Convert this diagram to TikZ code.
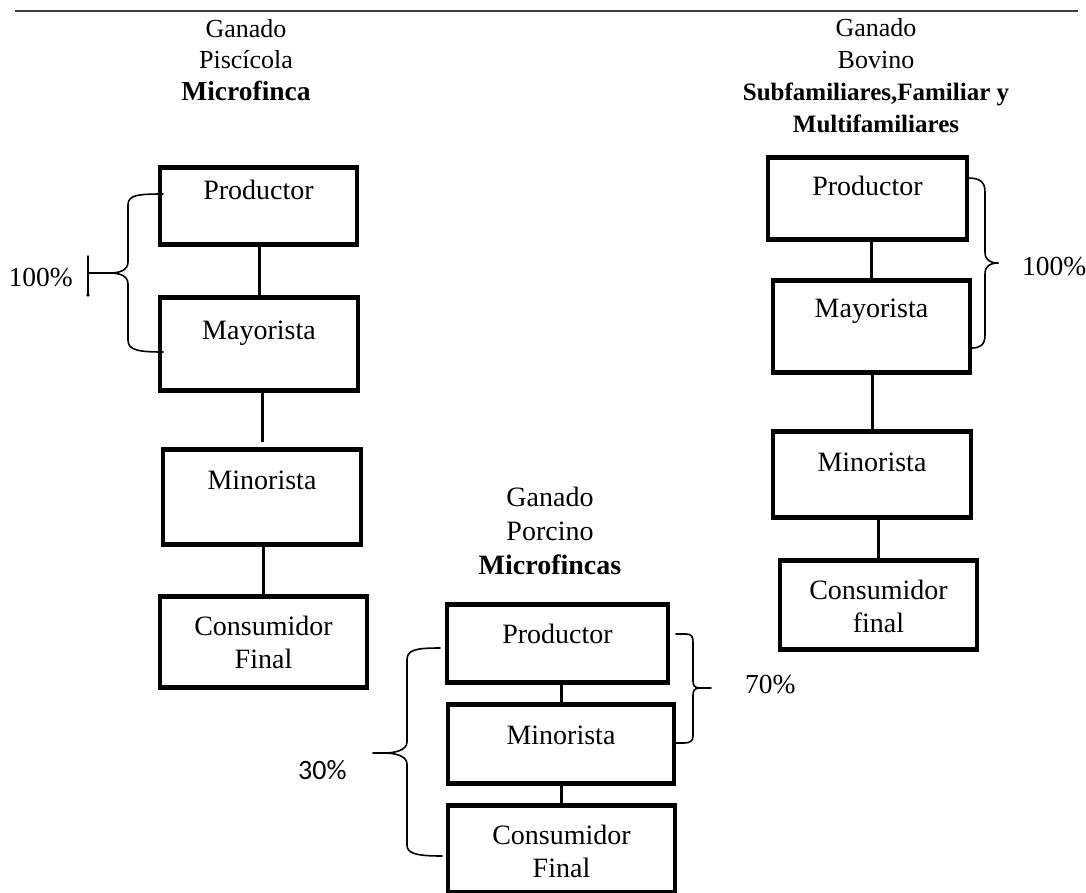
\documentclass[tikz,border=0pt]{standalone}
\usepackage{fontspec}
\setmainfont{Liberation Serif}
\newfontfamily\calibfont{Carlito}
\begin{document}
\begin{tikzpicture}[x=1pt,y=-1pt,
  stage/.style={draw, line width=4.5pt, inner sep=0pt, font=\fontsize{28}{33}\selectfont},
  link/.style={line width=3pt},
  brace/.style={line width=1.6pt, line cap=round, line join=round},
  rule/.style={line width=2pt, black!75},
  head/.style={anchor=base, inner sep=0pt},
  pct/.style={inner sep=0pt, font=\fontsize{27.5}{33}\selectfont}]

% page frame
\useasboundingbox (0,0) rectangle (1086,892);

% box: name, left, top, right, bottom, baseline, text
\newcommand\stagebox[7]{%
  \pgfmathsetmacro\sbw{#4-#2}%
  \pgfmathsetmacro\sbh{#6-#3}%
  \pgfmathsetmacro\sbd{#5-#6}%
  \pgfmathsetmacro\sbx{(#2+#4)/2}%
  \node[stage, minimum width=\sbw pt, text height=\sbh pt, text depth=\sbd pt, anchor=north] (#1) at (\sbx,#3) {#7};}
\newcommand\twolines[2]{\begin{tabular}[t]{@{}c@{}}#1\\#2\end{tabular}}

% top rule
\coordinate (ruleL) at (15,11);
\coordinate (ruleR) at (1078,11);
\draw[rule] (ruleL) -- (ruleR);

% ---------- Ganado Piscicola ----------
\node[head, font=\fontsize{26}{31.5}\selectfont] (hp) at (246,37)
  {\begin{tabular}[t]{@{}c@{}}Ganado\\ Piscícola\\ \fontsize{27.5}{31.5}\selectfont\bfseries Microfinca\end{tabular}};

\stagebox{pA}{160}{165}{357}{242}{197}{Productor}
\stagebox{pB}{160}{295}{358}{388}{337}{Mayorista}
\stagebox{pC}{163}{447}{361}{542}{487}{Minorista}
\stagebox{pD}{160}{594}{367}{685}{633}{\twolines{Consumidor}{Final}}

\draw[link] (pB.north) -- (pB.north |- pA.south);
\draw[link] (pC.north) ++(0,-5) -- (pC.north |- pB.south);
\draw[link] (pD.north) -- (pD.north |- pC.south);

\draw[brace] (163,194) .. controls (138,194) and (128,195) .. (128,205) -- (128,262)
  .. controls (128,270) and (120,273) .. (110,273) -- (88,273);
\draw[brace] (110,273) .. controls (120,273) and (128,276) .. (128,284) -- (128,340)
  .. controls (128,350) and (138,352) .. (163,352);
\draw[brace] (88,256) -- (88,295);
\fill (88,295) circle (1.8);
\node[pct, anchor=base east] (qA) at (73,286) {100\%};

% ---------- Ganado Bovino ----------
\node[head, font=\fontsize{26}{32}\selectfont] (hb) at (876,36)
  {\begin{tabular}[t]{@{}c@{}}Ganado\\ Bovino\\ \fontsize{25}{32}\selectfont\bfseries Subfamiliares,Familiar y\\
  \fontsize{25}{32}\selectfont\bfseries Multifamiliares\end{tabular}};

\stagebox{bA}{768}{155}{967}{237}{193}{Productor}
\stagebox{bB}{773}{278}{970}{370}{315}{Mayorista}
\stagebox{bC}{773}{429}{971}{515}{469}{Minorista}
\stagebox{bD}{780}{558}{977}{647}{597}{\twolines{Consumidor}{final}}

\draw[link] (bB.north) -- (bB.north |- bA.south);
\draw[link] (bC.north) -- (bC.north |- bB.south);
\draw[link] (bD.north) -- (bD.north |- bC.south);

\draw[brace] (968,178) .. controls (980,178) and (985,182) .. (985,192) -- (985,252)
  .. controls (985,260) and (990,263) .. (998,263);
\draw[brace] (998,263) .. controls (990,263) and (985,266) .. (985,274) -- (985,335)
  .. controls (985,345) and (980,348) .. (972,348);
\node[pct, anchor=base west] (qB) at (1022,275) {100\%};

% ---------- Ganado Porcino ----------
\node[head, font=\fontsize{28}{34}\selectfont] (hc) at (550,506)
  {\begin{tabular}[t]{@{}c@{}}Ganado\\ Porcino\\ \bfseries Microfincas\end{tabular}};

\stagebox{cA}{447}{602}{668}{680}{641}{Productor}
\stagebox{cB}{448}{702}{674}{781}{742}{Minorista}
\stagebox{cC}{448}{803}{675}{890}{842}{\twolines{Consumidor}{Final}}

\draw[link] (cB.north) -- (cB.north |- cA.south);
\draw[link] (cC.north) -- (cC.north |- cB.south);

\draw[brace] (440,648) .. controls (415,648) and (407,650) .. (407,660) -- (407,742)
  .. controls (407,750) and (395,753) .. (385,753) -- (373,753);
\draw[brace] (385,753) .. controls (395,753) and (407,756) .. (407,764) -- (407,845)
  .. controls (407,853) and (415,856) .. (442,856);
\node[pct, anchor=base west, font=\calibfont\fontsize{28}{32}\selectfont] (qC) at (298,779) {30\%};

\draw[brace] (676,634) -- (686,634) .. controls (691,634) and (693,636) .. (693,642) -- (693,681)
  .. controls (693,686) and (695,688) .. (700,688) -- (711,688);
\draw[brace] (700,688) .. controls (695,688) and (693,690) .. (693,695) -- (693,736)
  .. controls (693,741) and (690,743) .. (684,743) -- (675,743);
\node[pct, anchor=base west] (qD) at (745,693) {70\%};

\end{tikzpicture}
\end{document}
